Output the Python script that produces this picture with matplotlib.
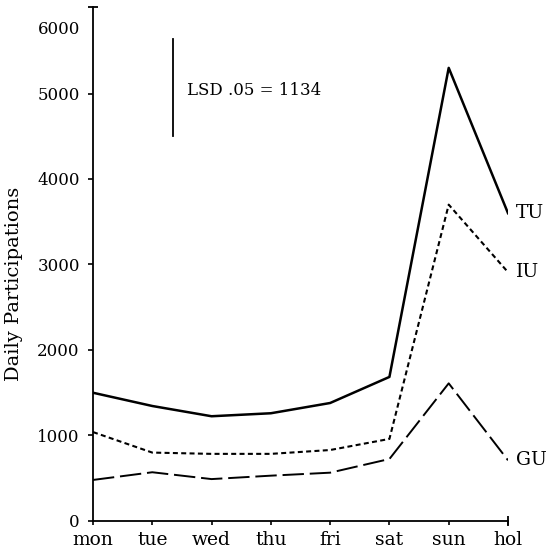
import numpy as np
import matplotlib.pyplot as plt

days = ['mon', 'tue', 'wed', 'thu', 'fri', 'sat', 'sun', 'hol']
tu = [1500, 1345, 1225, 1260, 1380, 1685, 5300, 3600]
iu = [1040, 800, 785, 785, 830, 960, 3700, 2910]
gu = [480, 570, 490, 530, 565, 725, 1610, 710]
lsd = 1134
lsd_base = 4500

plt.rcParams['font.family'] = ['DejaVu Serif']

fig = plt.figure(figsize=(5.48, 5.54), dpi=100)
ax = fig.add_axes([0.1697, 0.0596, 0.7573, 0.9278])

x = np.arange(len(days))
ax.plot(x, tu, color='black', lw=1.8, linestyle='-')
ax.plot(x, iu, color='black', lw=1.5, linestyle=(0, (2.4, 1.6)))
ax.plot(x, gu, color='black', lw=1.4, linestyle=(0, (11, 3)))

# series labels at the right end
for vals, name in [(tu, 'TU'), (iu, 'IU'), (gu, 'GU')]:
    ax.annotate(name, (x[-1], vals[-1]), xytext=(6, 0), textcoords='offset points',
                ha='left', va='center', fontsize=13.5, annotation_clip=False)

# LSD bar
ax.plot([1.35, 1.35], [lsd_base, lsd_base + lsd], color='black', lw=1.3)
ax.text(1.585, 5040, 'LSD .05 = %d' % lsd, ha='left', va='center', fontsize=12)

ax.set_xlim(0, 7)
ax.set_ylim(0, 6012)
ax.set_xticks(x)
ax.set_xticklabels(days, fontsize=13.5)
ax.set_yticks(np.arange(0, 6000, 1000))
ax.tick_params(axis='y', labelsize=12, length=3.5, width=1.2, direction='out', pad=6)
ax.tick_params(axis='x', length=3, width=1.2, direction='out', pad=4.5)
# the 6000 label sits a little below the top of the axis
ax.annotate('6000', xy=(0, 5743), xytext=(-9.5, 0), textcoords='offset points',
            ha='right', va='center', fontsize=12, annotation_clip=False)
ax.set_ylabel('Daily Participations', fontsize=14)
ax.yaxis.set_label_coords(-0.169, 0.461)

ax.spines['top'].set_visible(False)
ax.spines['right'].set_visible(False)
ax.spines['left'].set_linewidth(1.3)
ax.spines['bottom'].set_linewidth(1.3)
# caps at the ends of the axes
ax.plot([0], [6012], marker='_', markersize=7, color='black', mew=1.3, clip_on=False)
ax.plot([7], [0], marker='|', markersize=7, color='black', mew=1.3, clip_on=False)

fig.savefig('out.png', dpi=100)
